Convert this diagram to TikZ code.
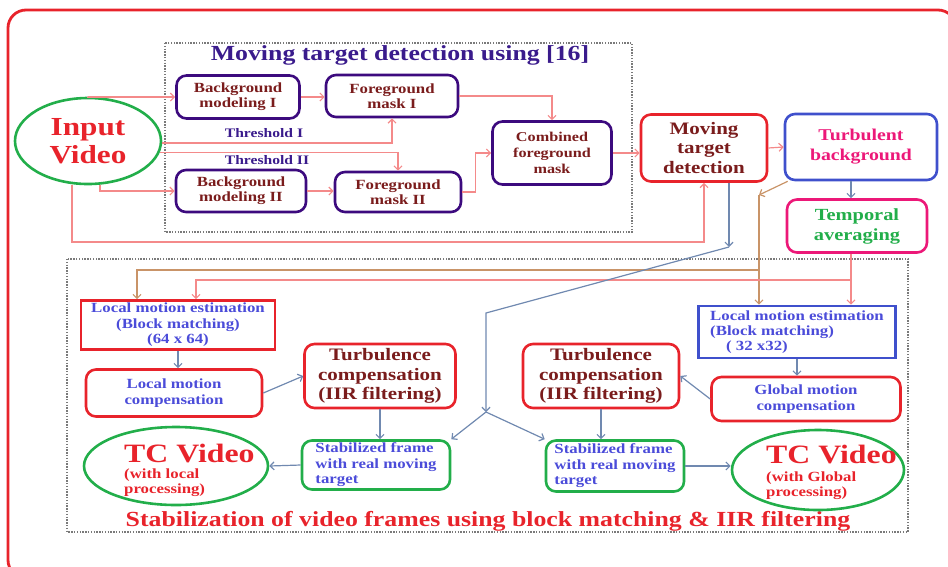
\documentclass[tikz,border=0pt]{standalone}
\usepackage{fontspec}
\setmainfont{Liberation Serif}[FakeStretch=1.2]
\usetikzlibrary{arrows.meta, shapes.geometric}
\definecolor{frame}{HTML}{E8232B}
\definecolor{mtdpurple}{HTML}{3C0A7E}
\definecolor{brick}{HTML}{7A1C1C}
\definecolor{salmon}{HTML}{F48A8A}
\definecolor{slate}{HTML}{7089B0}
\definecolor{tanline}{HTML}{C99468}
\definecolor{leaf}{HTML}{22AE4A}
\definecolor{periw}{HTML}{4B4CD9}
\definecolor{royal}{HTML}{3F50CC}
\definecolor{hotpink}{HTML}{EC1878}
\definecolor{indigo}{HTML}{3A1B8C}
\definecolor{dotgray}{HTML}{7A7A7A}
\newcommand{\tcfont}[2]{\fontsize{#1}{#2}\selectfont\bfseries}

\begin{document}
\begin{tikzpicture}[x=1pt, y=-1pt, >={Straight Barb[length=4pt, width=8pt]},
  stage/.style={draw=#1, line width=2.6pt, rounded corners=10pt,
                align=center, inner sep=0pt},
  sqstage/.style={draw=#1, line width=2.6pt, align=center, inner sep=0pt},
  ell/.style={ellipse, draw=#1, line width=2.6pt, inner sep=0pt, align=center},
  pinkline/.style={salmon, line width=1.2pt, ->},
  slateline/.style={slate, line width=1.2pt, ->},
  brownline/.style={tanline, line width=1.2pt, ->},
  group/.style={dotgray, line width=1.2pt, dash pattern=on 1.4pt off 1.4pt}]

\useasboundingbox (0,0) rectangle (948,566);

% Frame and groups
\draw[frame, line width=2.8pt, rounded corners=18pt] (8,10) rectangle (956,578);
\draw[group] (165,43) rectangle (632,232);
\draw[group] (67,259) rectangle (908,532);

\node[text=indigo, font=\tcfont{21.5}{24}] (toptitle) at (400,55) {Moving target detection using [16]};
\node[text=frame, font=\tcfont{21.5}{24}] (bottitle) at (488,521) {Stabilization of video frames using block matching \& IIR filtering};

% Moving target detection
\node[ell=leaf, minimum width=146pt, minimum height=86pt, text=frame, font=\tcfont{26}{28}] (inp) at (88,141) {Input\\Video};
\node[stage=mtdpurple, minimum width=123pt, minimum height=43pt, text=brick, font=\tcfont{14}{15}] (bgm1) at (238,97) {Background\\modeling I};
\node[stage=mtdpurple, minimum width=132pt, minimum height=42pt, text=brick, font=\tcfont{14}{15}] (fgm1) at (392,96) {Foreground\\mask I};
\node[stage=mtdpurple, minimum width=130pt, minimum height=42pt, text=brick, font=\tcfont{14}{15}] (bgm2) at (241,191) {Background\\modeling II};
\node[stage=mtdpurple, minimum width=126pt, minimum height=40pt, text=brick, font=\tcfont{14}{15}] (fgm2) at (398,192) {Foreground\\mask II};
\node[stage=mtdpurple, minimum width=119pt, minimum height=63pt, text=brick, font=\tcfont{13.5}{16}] (comb) at (552,153) {Combined\\foreground\\mask};
\node[text=indigo, font=\tcfont{13}{15}] (th1) at (264,133) {Threshold I};
\node[text=indigo, font=\tcfont{13}{15}] (th2) at (267,160) {Threshold II};

\node[stage=frame, minimum width=126pt, minimum height=67pt, text=brick, font=\tcfont{17.5}{19.5}] (mtd) at (704,148) {Moving\\target\\detection};
\node[stage=royal, minimum width=152pt, minimum height=66pt, text=hotpink, font=\tcfont{16.5}{20}] (turb) at (861,147) {Turbulent\\background};
\node[stage=hotpink, minimum width=140pt, minimum height=53pt, text=leaf, font=\tcfont{17}{20}] (temp) at (857,226) {Temporal\\averaging};

% Stabilization
\node[sqstage=frame, minimum width=194pt, minimum height=49pt, text=periw, font=\tcfont{14}{15.5}] (lme64) at (178,325) {Local motion estimation\\(Block matching)\\(64 x 64)};
\node[stage=frame, minimum width=176pt, minimum height=47pt, text=periw, font=\tcfont{14}{16}] (lmc) at (174,393) {Local motion\\compensation};
\node[stage=frame, minimum width=151pt, minimum height=64pt, text=brick, font=\tcfont{17.5}{19.5}] (tc64) at (380,376) {Turbulence\\compensation\\(IIR filtering)};
\node[stage=leaf, minimum width=148pt, minimum height=49pt, text=periw, font=\tcfont{14}{15.5}, align=left] (stabL) at (376,465) {Stabilized frame\\with real moving\\target};
\node[ell=leaf, minimum width=184pt, minimum height=78pt] (tcL) at (176,466) {};
\node[text=frame, font=\tcfont{26.5}{28}, anchor=base west, inner sep=0pt] (tcLtitle) at (124,462) {TC Video};
\node[text=frame, font=\tcfont{14}{15}, anchor=north west, inner sep=0pt, align=left] (tcLsub) at (124,469) {(with local\\processing)};

\node[sqstage=royal, minimum width=197pt, minimum height=52pt, text=periw, font=\tcfont{14}{15}, align=left] (lme32) at (797,332) {Local motion estimation\\(Block matching)\\\hspace*{16pt}( 32 x32)};
\node[stage=frame, minimum width=189pt, minimum height=44pt, text=periw, font=\tcfont{14}{16}] (gmc) at (806,399) {Global motion\\compensation};
\node[stage=frame, minimum width=156pt, minimum height=64pt, text=brick, font=\tcfont{17.5}{19.5}] (tc32) at (601,376) {Turbulence\\compensation\\(IIR filtering)};
\node[stage=leaf, minimum width=138pt, minimum height=51pt, text=periw, font=\tcfont{14}{15.5}, align=left] (stabR) at (615,466) {Stabilized frame\\with real moving\\target};
\node[ell=leaf, minimum width=172pt, minimum height=80pt] (tcR) at (818,470) {};
\node[text=frame, font=\tcfont{26.5}{28}, anchor=base west, inner sep=0pt] (tcRtitle) at (766,463) {TC Video};
\node[text=frame, font=\tcfont{14}{15}, anchor=north west, inner sep=0pt, align=left] (tcRsub) at (766,472) {(with Global\\processing)};

% Bend points
\coordinate (lp) at (704,242);
\coordinate (bd) at (729,247);
\coordinate (bb) at (486,313);
\coordinate (bs) at (486,412);
\coordinate (bk) at (759,195);
\coordinate (bj) at (759,270);
\coordinate (rj) at (851,280);

% Connectors
\draw[pinkline] (inp.north) |- (bgm1.west);
\draw[pinkline] (bgm1.east) -- (bgm1.east -| fgm1.west);
\draw[pinkline] (fgm1.east) -| (comb.north);
\draw[pinkline] ([yshift=-2pt]inp.east) -| (fgm1.south);
\draw[pinkline] (inp.-9) -| (fgm2.north);
\draw[pinkline] ([xshift=12pt]inp.south) |- (bgm2.west);
\draw[pinkline] (bgm2.east) -- (bgm2.east -| fgm2.west);
\draw[pinkline] (fgm2.east) -- ++(13,0) |- (comb.west);
\draw[pinkline] (comb.east) -- (comb.east -| mtd.west);
\draw[pinkline] ([xshift=-16pt]inp.south) |- (lp) -- (mtd.south);
\draw[pinkline] (mtd.east) -- (turb.west);
\draw[slateline] (turb.south -| rj) -- (temp.north -| rj);

\draw[brownline] ([xshift=4pt]turb.south west) -- (bk);
\draw[brownline] (bk) -- (lme32.north -| bk);
\draw[brownline] (bj) -| ([xshift=-41pt]lme64.north);
\draw[pinkline] (temp.south -| rj) -- (lme32.north -| rj);
\draw[pinkline] (rj) -| ([xshift=18pt]lme64.north);

\draw[slateline] (mtd.south -| bd) -- (bd);
\draw[slateline] (bd) -- (bb) -- (bs);
\draw[slateline] (bs) -- (stabL.north east);
\draw[slateline] (bs) -- (stabR.north west);

\draw[slateline] (lme64.south) -- (lme64.south |- lmc.north);
\draw[slateline] (lmc.east) -- (tc64.west);
\draw[slateline] (tc64.south) -- (tc64.south |- stabL.north);
\draw[slateline] (stabL.west) -- (tcL.east);
\draw[slateline] (lme32.south) -- (lme32.south |- gmc.north);
\draw[slateline] (gmc.west) -- (tc32.east);
\draw[slateline] (tc32.south) -- (tc32.south |- stabR.north);
\draw[slateline] (stabR.east) -- (stabR.east -| tcR.west);

\end{tikzpicture}
\end{document}
